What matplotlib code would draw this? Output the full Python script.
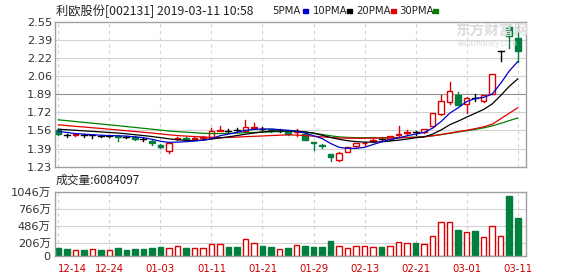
import numpy as np
import matplotlib.pyplot as plt
from matplotlib.patches import Rectangle

# 利欧股份 daily candles, 2018-12-14 .. 2019-03-11
opens = [1.56, 1.52, 1.515, 1.515, 1.515, 1.51, 1.51, 1.505, 1.50, 1.50,
         1.48, 1.465, 1.43, 1.375, 1.48, 1.49, 1.485, 1.49, 1.50, 1.555,
         1.555, 1.56, 1.55, 1.585, 1.575, 1.57, 1.555, 1.555, 1.545, 1.53,
         1.45, 1.43, 1.34, 1.29, 1.365, 1.415, 1.44, 1.465, 1.485, 1.48,
         1.52, 1.535, 1.54, 1.54, 1.60, 1.71, 1.815, 1.88, 1.80, 1.855,
         1.83, 1.895, 2.28, 2.50, 2.40]
highs = [1.57, 1.53, 1.53, 1.525, 1.52, 1.52, 1.52, 1.515, 1.51, 1.505,
         1.49, 1.47, 1.435, 1.44, 1.50, 1.50, 1.50, 1.51, 1.58, 1.60,
         1.57, 1.58, 1.65, 1.63, 1.59, 1.575, 1.57, 1.56, 1.57, 1.535,
         1.45, 1.435, 1.345, 1.36, 1.41, 1.445, 1.455, 1.48, 1.50, 1.51,
         1.60, 1.56, 1.55, 1.575, 1.72, 1.88, 2.00, 1.91, 1.86, 1.89,
         1.885, 2.07, 2.28, 2.51, 2.50]
lows = [1.52, 1.50, 1.51, 1.50, 1.49, 1.50, 1.50, 1.46, 1.49, 1.47,
        1.46, 1.43, 1.40, 1.355, 1.47, 1.47, 1.48, 1.485, 1.495, 1.55,
        1.54, 1.54, 1.54, 1.57, 1.56, 1.54, 1.54, 1.52, 1.51, 1.47,
        1.38, 1.40, 1.28, 1.28, 1.36, 1.41, 1.43, 1.45, 1.47, 1.475,
        1.51, 1.52, 1.52, 1.535, 1.59, 1.70, 1.80, 1.79, 1.715, 1.83,
        1.82, 1.89, 2.19, 2.31, 2.18]
closes = [1.53, 1.52, 1.525, 1.515, 1.515, 1.51, 1.51, 1.50, 1.50, 1.48,
          1.48, 1.44, 1.41, 1.44, 1.49, 1.485, 1.49, 1.50, 1.55, 1.56,
          1.555, 1.56, 1.59, 1.59, 1.575, 1.55, 1.555, 1.525, 1.55, 1.475,
          1.44, 1.415, 1.32, 1.355, 1.405, 1.44, 1.445, 1.47, 1.485, 1.505,
          1.53, 1.545, 1.54, 1.57, 1.715, 1.83, 1.92, 1.79, 1.855, 1.855,
          1.88, 2.07, 2.28, 2.42, 2.28]

ma5 = [1.55, 1.54, 1.53, 1.525, 1.52, 1.515, 1.512, 1.51, 1.507, 1.50,
       1.493, 1.478, 1.46, 1.45, 1.452, 1.456, 1.462, 1.47, 1.485, 1.51,
       1.525, 1.54, 1.56, 1.568, 1.572, 1.572, 1.566, 1.56, 1.55, 1.535,
       1.51, 1.485, 1.44, 1.405, 1.395, 1.395, 1.405, 1.43, 1.455, 1.475,
       1.49, 1.51, 1.525, 1.54, 1.58, 1.64, 1.715, 1.765, 1.822, 1.85,
       1.86, 1.89, 1.988, 2.10, 2.186]
ma10 = [1.57, 1.565, 1.56, 1.555, 1.55, 1.545, 1.54, 1.535, 1.528, 1.52,
        1.512, 1.503, 1.493, 1.482, 1.474, 1.468, 1.466, 1.47, 1.48, 1.49,
        1.50, 1.512, 1.524, 1.535, 1.545, 1.552, 1.555, 1.555, 1.553, 1.545,
        1.533, 1.515, 1.495, 1.478, 1.465, 1.457, 1.452, 1.452, 1.455, 1.462,
        1.47, 1.48, 1.492, 1.50, 1.525, 1.563, 1.61, 1.643, 1.68, 1.715,
        1.75, 1.80, 1.877, 1.96, 2.028]
ma20 = [1.61, 1.603, 1.596, 1.59, 1.583, 1.577, 1.57, 1.563, 1.556, 1.549,
        1.542, 1.535, 1.527, 1.519, 1.512, 1.507, 1.503, 1.499, 1.495, 1.493,
        1.495, 1.498, 1.502, 1.505, 1.508, 1.512, 1.515, 1.518, 1.516, 1.512,
        1.506, 1.50, 1.494, 1.49, 1.488, 1.487, 1.487, 1.488, 1.49, 1.491,
        1.492, 1.494, 1.496, 1.50, 1.51, 1.522, 1.535, 1.548, 1.56, 1.575,
        1.592, 1.615, 1.665, 1.715, 1.765]
ma30 = [1.655, 1.648, 1.64, 1.632, 1.625, 1.617, 1.61, 1.602, 1.594, 1.586,
        1.578, 1.57, 1.562, 1.553, 1.548, 1.543, 1.538, 1.533, 1.53, 1.53,
        1.532, 1.535, 1.538, 1.54, 1.543, 1.546, 1.549, 1.551, 1.55, 1.545,
        1.535, 1.522, 1.51, 1.50, 1.495, 1.493, 1.492, 1.492, 1.492, 1.492,
        1.493, 1.495, 1.497, 1.502, 1.51, 1.52, 1.532, 1.544, 1.556, 1.568,
        1.582, 1.60, 1.623, 1.648, 1.672]

# volume in 万股, 1 = red (up) bar, 0 = green
volume = [120, 109, 87, 87, 109, 87, 87, 120, 93, 115,
          109, 120, 142, 131, 158, 120, 131, 120, 196, 196,
          142, 142, 272, 207, 158, 142, 109, 120, 174, 158,
          142, 142, 240, 158, 120, 158, 158, 136, 142, 158,
          218, 207, 207, 191, 322, 556, 556, 420, 382, 403,
          300, 480, 316, 976, 620]
vol_up = [0, 0, 1, 0, 1, 0, 1, 0, 0, 0,
          0, 0, 0, 1, 1, 0, 1, 1, 1, 1,
          0, 0, 1, 1, 0, 0, 1, 0, 1, 0,
          0, 0, 0, 1, 1, 1, 1, 1, 0, 1,
          1, 1, 0, 1, 1, 1, 1, 0, 1, 0,
          1, 1, 1, 0, 0]

date_ticks = [0, 6, 12, 18, 24, 30, 36, 42, 48, 54]
date_labels = ['12-14', '12-24', '01-03', '01-11', '01-21',
               '01-29', '02-13', '02-21', '03-01', '03-11']
price_labels = ['1.23', '1.39', '1.56', '1.72', '1.89', '2.06', '2.22', '2.39', '2.55']
vol_ticks = [0, 206, 486, 766, 1046]
vol_labels = ['0', '206万', '486万', '766万', '1046万']

RED = '#dd0000'
GREEN = '#007f3f'
GRID = '#d4d4d4'
FRAME = '#a0a0a0'
CJK = ['Noto Sans CJK SC', 'DejaVu Sans']
TXT = ['DejaVu Sans', 'Noto Sans CJK SC']

fig = plt.figure(figsize=(5.78, 2.76), dpi=100)
W, H = 578, 276
ax = fig.add_axes([55 / W, 1 - 166.7 / H, 470.7 / W, 145 / H])
axv = fig.add_axes([55 / W, 1 - 255.7 / H, 470.7 / W, 64 / H])

n = len(closes)
x = np.arange(n)
lo, hi = 1.228, 2.55

for a in (ax, axv):
    a.set_xlim(-0.39, n - 0.06)
    for s in a.spines.values():
        s.set_color(FRAME)
        s.set_linewidth(1)
    a.tick_params(length=0, colors='#333333', labelsize=8.2)
    for t in date_ticks:
        a.axvline(t, color=GRID, lw=0.8, ls=(0, (3, 3)), zorder=0)

# price panel
ax.set_ylim(lo, hi)
pticks = np.linspace(lo, hi, 9)
ax.set_yticks(pticks)
ax.set_yticklabels(price_labels)
ax.tick_params(axis='y', pad=2)
ax.set_xticks([])
for k, t in enumerate(pticks[1:-1]):
    ax.axhline(t, color='#909090' if k == 3 else GRID, lw=0.8, zorder=0)

for i in range(n):
    o, h, l, c = opens[i], highs[i], lows[i], closes[i]
    if c > o:
        col, face = RED, 'white'
    elif c < o:
        col, face = GREEN, GREEN
    else:
        col, face = 'black', 'black'
    top, bot = max(o, c), min(o, c)
    ax.plot([i, i], [top, h], color=col, lw=1, zorder=2)
    ax.plot([i, i], [l, bot], color=col, lw=1, zorder=2)
    if c == o:
        ax.plot([i - 0.35, i + 0.35], [o, o], color=col, lw=1, zorder=3)
    else:
        ax.add_patch(Rectangle((i - 0.33, bot), 0.66, top - bot,
                               facecolor=face, edgecolor=col, lw=1, zorder=3))

ax.plot(x, ma30, color='#008000', lw=0.9, zorder=4)
ax.plot(x, ma20, color='#e00000', lw=0.9, zorder=4)
ax.plot(x, ma10, color='black', lw=0.9, zorder=4)
ax.plot(x, ma5, color='#0000cc', lw=0.9, zorder=4)

# watermark
fig.text(455 / W, 1 - 31 / H, '东方财富网', family=CJK, fontsize=10.5,
         color='#dcdcdc', va='center', ha='left', fontweight='bold')
fig.text(458 / W, 1 - 43 / H, 'eastmoney.com', family=TXT, fontsize=5.5,
         color='#dcdcdc', va='center', ha='left')

# volume panel
axv.set_ylim(0, 1046)
axv.set_yticks(vol_ticks)
axv.set_yticklabels(vol_labels, family=TXT)
axv.tick_params(axis='y', pad=3)
for t in vol_ticks[1:-1]:
    axv.axhline(t, color=GRID, lw=0.8, zorder=0)
for i in range(n):
    if vol_up[i]:
        axv.bar(i, volume[i], width=0.66, facecolor='white', edgecolor=RED, lw=1, zorder=2)
    else:
        axv.bar(i, volume[i], width=0.66, color=GREEN, edgecolor=GREEN, lw=1, zorder=2)
axv.set_xticks(date_ticks)
axv.set_xticklabels(date_labels, color='#cc0000', fontsize=7.3)
axv.tick_params(axis='x', pad=6)
axv.get_xticklabels()[0].set_ha('left')

# header texts
fig.text(56 / W, 1 - 11 / H, '利欧股份[002131] 2019-03-11 10:58', family=CJK,
         fontsize=8.8, color='#222222', va='center')
fig.text(56 / W, 1 - 180 / H, '成交量:6084097', family=CJK,
         fontsize=8.5, color='#222222', va='center')

legend = [('5PMA', 272, '#0000cc', 303), ('10PMA', 313, 'black', 347),
          ('20PMA', 356, '#e00000', 391), ('30PMA', 399, '#008000', 433)]
for name, tx, col, sx in legend:
    fig.text(tx / W, 1 - 11 / H, name, family=TXT, fontsize=7.3,
             color='#222222', va='center')
    fig.add_artist(Rectangle((sx / W, 1 - 12.5 / H), 5 / W, 3 / H,
                             color=col, transform=fig.transFigure))

fig.savefig('out.png', dpi=100)
